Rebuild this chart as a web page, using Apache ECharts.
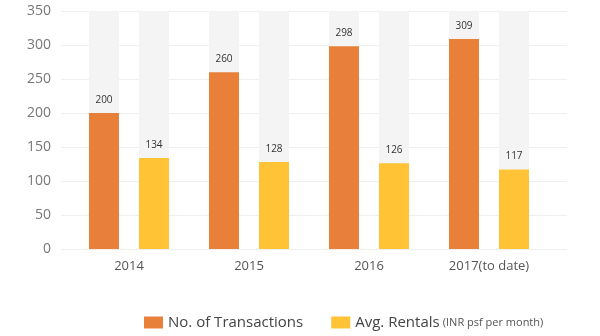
<!DOCTYPE html>
<html><head><meta charset="utf-8">
<script src="https://cdn.jsdelivr.net/npm/echarts@6/dist/echarts.min.js"></script>
<style>html,body{margin:0;padding:0;background:#fff}#c{width:600px;height:336px}</style>
</head><body><div id="c"></div>
<script>
var categories = ['2014', '2015', '2016', '2017(to date)'];
var transactions = [200, 260, 298, 309];
var rentals = [134, 128, 126, 117];
var seriesNames = ['No. of Transactions', 'Avg. Rentals'];

var chart = echarts.init(document.getElementById('c'));
var font = 'Open Sans';
chart.setOption({
  animation: false,
  textStyle: { fontFamily: font },
  grid: [
    { left: 61, right: 33, top: 11, bottom: 87 },
    { left: 69, right: 51, top: 11, bottom: 87 }
  ],
  xAxis: [
    { gridIndex: 0, type: 'category', data: categories, show: false },
    { gridIndex: 1, type: 'category', data: categories,
      axisLine: { show: false }, axisTick: { show: false },
      axisLabel: { color: '#555', fontSize: 13, margin: 11, fontFamily: font } }
  ],
  yAxis: [
    { gridIndex: 0, type: 'value', min: 0, max: 350, interval: 50,
      axisLine: { show: false }, axisTick: { show: false },
      axisLabel: { color: '#777', fontSize: 14, margin: 10, fontFamily: font },
      splitLine: { lineStyle: { color: '#efefef', width: 1 } } },
    { gridIndex: 1, type: 'value', min: 0, max: 350, interval: 50, show: false,
      splitLine: { show: false } }
  ],
  legend: {
    bottom: 1, left: 139, itemWidth: 19, itemHeight: 12, itemGap: 28,
    icon: 'rect',
    data: seriesNames,
    formatter: function (n) {
      return n === 'Avg. Rentals' ? '{a|Avg. Rentals} {b|(INR psf per month)}' : '{a|' + n + '}';
    },
    textStyle: {
      rich: {
        a: { fontSize: 15, color: '#444', fontFamily: font },
        b: { fontSize: 11, color: '#555', fontFamily: font }
      }
    }
  },
  series: [
    { name: seriesNames[0], type: 'bar', xAxisIndex: 1, yAxisIndex: 1,
      data: transactions, barWidth: 30, barGap: '66.67%',
      itemStyle: { color: '#E9803A' },
      showBackground: true, backgroundStyle: { color: '#f4f4f4' },
      label: { show: true, position: 'top', distance: 8, color: '#333', fontSize: 10, fontFamily: font } },
    { name: seriesNames[1], type: 'bar', xAxisIndex: 1, yAxisIndex: 1,
      data: rentals, barWidth: 30,
      itemStyle: { color: '#FFC335' },
      showBackground: true, backgroundStyle: { color: '#f4f4f4' },
      label: { show: true, position: 'top', distance: 8, color: '#333', fontSize: 10, fontFamily: font } }
  ]
});
</script></body></html>
